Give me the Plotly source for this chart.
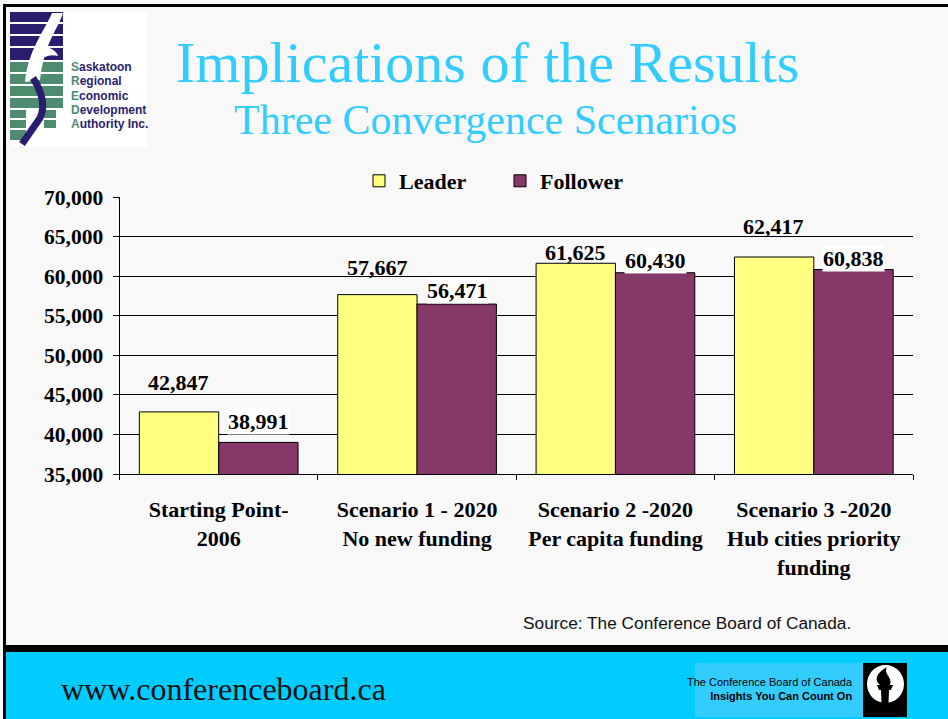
import plotly.graph_objects as go

# ---------------- data ----------------
categories = ["Starting Point-<br>2006",
              "Scenario 1 - 2020<br>No new funding",
              "Scenario 2 -2020<br>Per capita funding",
              "Scenario 3 -2020<br>Hub cities priority<br>funding"]
leader = [42847, 57667, 61625, 62417]
follower = [38991, 56471, 60430, 60838]
y_ticks = [35000, 40000, 45000, 50000, 55000, 60000, 65000, 70000]

title_text = "Implications of the Results"
subtitle_text = "Three Convergence Scenarios"
source_text = "Source: The Conference Board of Canada."
website_text = "www.conferenceboard.ca"
logo_lines = ["Saskatoon", "Regional", "Economic", "Development", "Authority Inc."]

# ---------------- style ----------------
W, H = 948, 719
def px(x): return x / W
def py(y): return 1 - y / H

BG = "#f8f8f8"
YELLOW = "#ffff80"
PLUM = "#863868"
CYAN_T = "#33ccff"
BAND = "#00ccff"
NAVY = "#2b1d6e"
GREEN = "#4d8c6e"
SERIF = "Liberation Serif, Times New Roman, serif"
SANS = "Liberation Sans, Arial, sans-serif"
NARROW = "Liberation Sans Narrow, Arial Narrow, Liberation Sans, sans-serif"

leader_off = [29, 27, 11, 31]
follower_off = [21, 14, 12, 11]
bar_half = 40

fig = go.Figure()
fig.add_trace(go.Bar(name="Leader", x=categories, y=leader,
                     marker=dict(color=YELLOW, line=dict(color="black", width=1))))
fig.add_trace(go.Bar(name="Follower", x=categories, y=follower,
                     marker=dict(color=PLUM, line=dict(color="black", width=1))))

shapes = []
def rect(x0, y0, x1, y1, color, layer="below"):
    shapes.append(dict(type="rect", xref="paper", yref="paper",
                       x0=px(x0), x1=px(x1), y0=py(y1), y1=py(y0),
                       fillcolor=color, line=dict(width=0), layer=layer))

def path(points, color, closed=True, width=0, layer="above", fill=True):
    segs = []
    for i, p in enumerate(points):
        if p[0] == "C":
            _, a, b, c, d, e, f = p
            segs.append(f"C {px(a)},{py(b)} {px(c)},{py(d)} {px(e)},{py(f)}")
        else:
            segs.append(("M " if i == 0 else "L ") + f"{px(p[0])},{py(p[1])}")
    s = " ".join(segs) + (" Z" if closed else "")
    shapes.append(dict(type="path", xref="paper", yref="paper", path=s,
                       fillcolor=color if fill else "rgba(0,0,0,0)",
                       line=dict(color=color, width=width), layer=layer))

# slide borders and bottom band
rect(3, 4, 948, 7, "black")
rect(3, 4, 6, 719, "black")
rect(6, 645, 948, 652, "black")
rect(6, 652, 948, 719, BAND)

# Conference Board logo
rect(695, 663, 863, 717, "#33ccff", layer="above")
rect(863, 663, 907, 717, "black", layer="above")
shapes.append(dict(type="circle", xref="paper", yref="paper",
                   x0=px(867), x1=px(904), y0=py(703), y1=py(665),
                   fillcolor="white", line=dict(width=0), layer="above"))
path([(880, 685), ("C", 873, 679, 878, 672, 887, 667), ("C", 883, 674, 893, 677, 890, 685)], "black")
path([(877, 685), (893, 685), (891, 690), (879, 690)], "black")
path([(881, 690), (889, 690), (888, 717), (882, 717)], "black")

# SREDA logo
rect(10, 12, 147, 147, "white", layer="above")
for (a, b) in [(12, 22), (24, 34), (36, 46), (48, 60)]:
    rect(10, a, 63, b, NAVY, layer="above")
for (a, b) in [(62, 72), (74, 84), (86, 96), (98, 108)]:
    rect(10, a, 63, b, GREEN, layer="above")
for (a, b) in [(110, 118), (120, 128), (130, 140)]:
    rect(10, a, 26, b, GREEN, layer="above")
for (a, b) in [(110, 118), (120, 128)]:
    rect(44, a, 56, b, GREEN, layer="above")
# white swoosh
path([(52, 13), (63, 13), ("C", 58, 30, 45, 40, 40, 80), (25, 82), ("C", 28, 50, 45, 30, 52, 13)], "white")
path([(36, 50), ("C", 45, 45, 55, 48, 58, 56), ("C", 50, 54, 44, 56, 38, 62)], "white")
# navy S
path([(33, 78), ("C", 42, 92, 46, 105, 40, 118), (22, 144)], NAVY, closed=False, width=7, fill=False)

annotations = []
for i, line in enumerate(logo_lines):
    annotations.append(dict(
        xref="paper", yref="paper", x=px(69), y=py(67 + i * 14.3),
        xanchor="left", yanchor="middle", showarrow=False,
        text=f"<span style='color:{GREEN}'>{line[0]}</span>{line[1:]}",
        font=dict(family=SANS, size=12, color=NAVY, weight="bold")))

# titles
annotations.append(dict(xref="paper", yref="paper", x=px(487), y=py(63),
                        xanchor="center", yanchor="middle", showarrow=False,
                        text=title_text, font=dict(family=SERIF, size=58, color=CYAN_T)))
annotations.append(dict(xref="paper", yref="paper", x=px(486), y=py(120),
                        xanchor="center", yanchor="middle", showarrow=False,
                        text=subtitle_text, font=dict(family=SERIF, size=42, color=CYAN_T)))
annotations.append(dict(xref="paper", yref="paper", x=px(521), y=py(623),
                        xanchor="left", yanchor="middle", showarrow=False,
                        text=source_text, font=dict(family=SANS, size=17.3, color="#111")))
annotations.append(dict(xref="paper", yref="paper", x=px(59), y=py(689),
                        xanchor="left", yanchor="middle", showarrow=False,
                        text=website_text, font=dict(family=SERIF, size=32, color="#111")))
annotations.append(dict(xref="paper", yref="paper", x=px(855), y=py(689),
                        xanchor="right", yanchor="middle", showarrow=False, align="right",
                        text="The Conference Board of Canada<br><b>Insights You Can Count On</b>",
                        font=dict(family=NARROW, size=11, color="black")))

# data labels
for cat, v, off in zip(categories, leader, leader_off):
    annotations.append(dict(x=cat, y=v, xref="x", yref="y", xshift=-bar_half, yshift=off,
                            showarrow=False, yanchor="middle", text=f"{v:,}",
                            font=dict(family=SERIF, size=22, color="black", weight="bold")))
for cat, v, off in zip(categories, follower, follower_off):
    annotations.append(dict(x=cat, y=v, xref="x", yref="y", xshift=bar_half, yshift=off,
                            showarrow=False, yanchor="middle", text=f"{v:,}", bgcolor="white",
                            borderpad=0,
                            font=dict(family=SERIF, size=22, color="black", weight="bold")))

fig.update_layout(
    width=W, height=H, margin=dict(l=0, r=0, t=0, b=0, autoexpand=False),
    paper_bgcolor=BG, plot_bgcolor="rgba(0,0,0,0)",
    barmode="group", bargap=0.2, bargroupgap=0,
    showlegend=True,
    legend=dict(orientation="h", x=px(359), xanchor="left", y=py(181), yanchor="middle",
                entrywidth=96, entrywidthmode="pixels",
                font=dict(family=SERIF, size=22, color="black", weight="bold"),
                bgcolor="rgba(0,0,0,0)"),
    xaxis=dict(domain=[px(119.5), px(913)], showline=True, linecolor="black", linewidth=1,
               ticks="outside", tickson="boundaries", ticklen=5, tickcolor="black",
               showgrid=False, zeroline=False, automargin=False, ticklabelstandoff=16,
               tickfont=dict(family=SERIF, size=22, color="black", weight="bold")),
    yaxis=dict(domain=[py(474), py(197)], range=[35000, 70000], tickvals=y_ticks,
               tickformat=",", showline=True, linecolor="black", linewidth=1,
               ticks="outside", ticklen=6, tickcolor="black", automargin=False,
               ticklabelstandoff=5,
               showgrid=True, gridcolor="black", gridwidth=1, zeroline=False,
               tickfont=dict(family=SERIF, size=21.5, color="black", weight="bold")),
    shapes=shapes, annotations=annotations,
)

fig.write_html("out.html", config={"displayModeBar": False},
               post_script="document.body.style.margin='0';")
